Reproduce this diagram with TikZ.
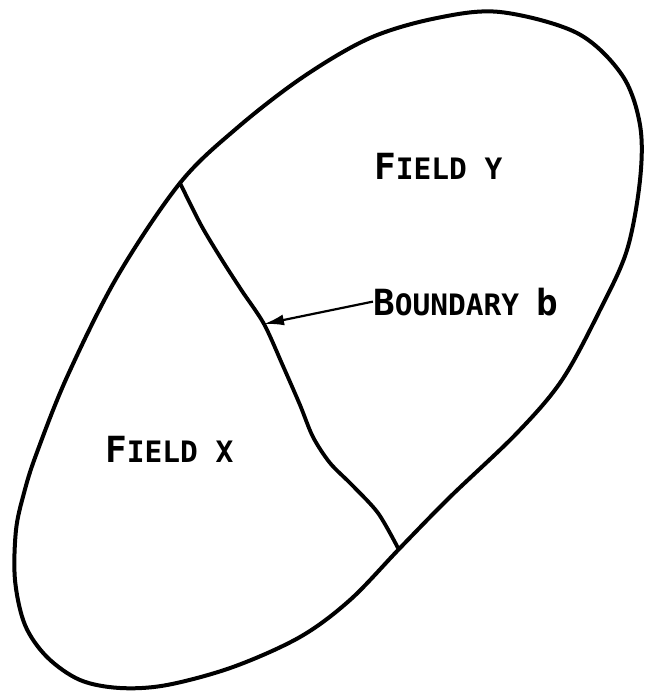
\documentclass[tikz,border=0pt]{standalone}
\usepackage{fontspec}
\setmonofont{DejaVu Sans Mono}
\usetikzlibrary{arrows.meta}
\newcommand{\capL}[1]{{\fontsize{36}{36}\selectfont #1}}
\newcommand{\capS}[1]{{\fontsize{29.5}{30}\selectfont #1}}
\tikzset{
  outline/.style={line width=4pt, line join=round},
  border/.style={line width=3.8pt, line cap=round, line join=round},
  lbl/.style={inner sep=0pt, anchor=base west, font=\ttfamily\bfseries},
  pointer/.style={line width=2.2pt, -{Latex[length=20pt,width=11pt]}}
}
\begin{document}
\begin{tikzpicture}[x=1pt,y=-1pt]
\useasboundingbox (0,0) rectangle (644,692);
% outer field outline
\draw[outline] plot[smooth cycle, tension=0.55] coordinates {
 (180,183) (237,128) (303,77) (370,38) (437,18) (500,12) (577,33) (622,75)
 (640,125) (640,180) (627,250) (600,310) (562,380) (517,433) (450,497)
 (400,548) (350,600) (300,637) (233,667) (167,685) (120,688) (80,680)
 (47,657) (25,625) (15,580) (16,530) (24,493) (36,455) (67,377) (117,277)};
% boundary b
\coordinate (bs) at (180,183);
\coordinate (be) at (398,548);
\coordinate (tip) at (264,324);
\draw[border] plot[smooth, tension=0.5] coordinates {
 (bs) (201,225) (222,260) (242,291) (tip) (283,366) (300,405) (313,437)
 (330,463) (352,485) (378,513) (be)};
% labels
\node[lbl] (fy) at (374,180) {\capL{F}\capS{IELD Y}};
\node[lbl] (fx) at (105,462) {\capL{F}\capS{IELD X}};
\node[lbl] (lb) at (373,315) {\capL{B}\capS{OUNDARY }\capL{b}};
\draw[pointer] (lb.west) -- (tip);
\end{tikzpicture}
\end{document}
